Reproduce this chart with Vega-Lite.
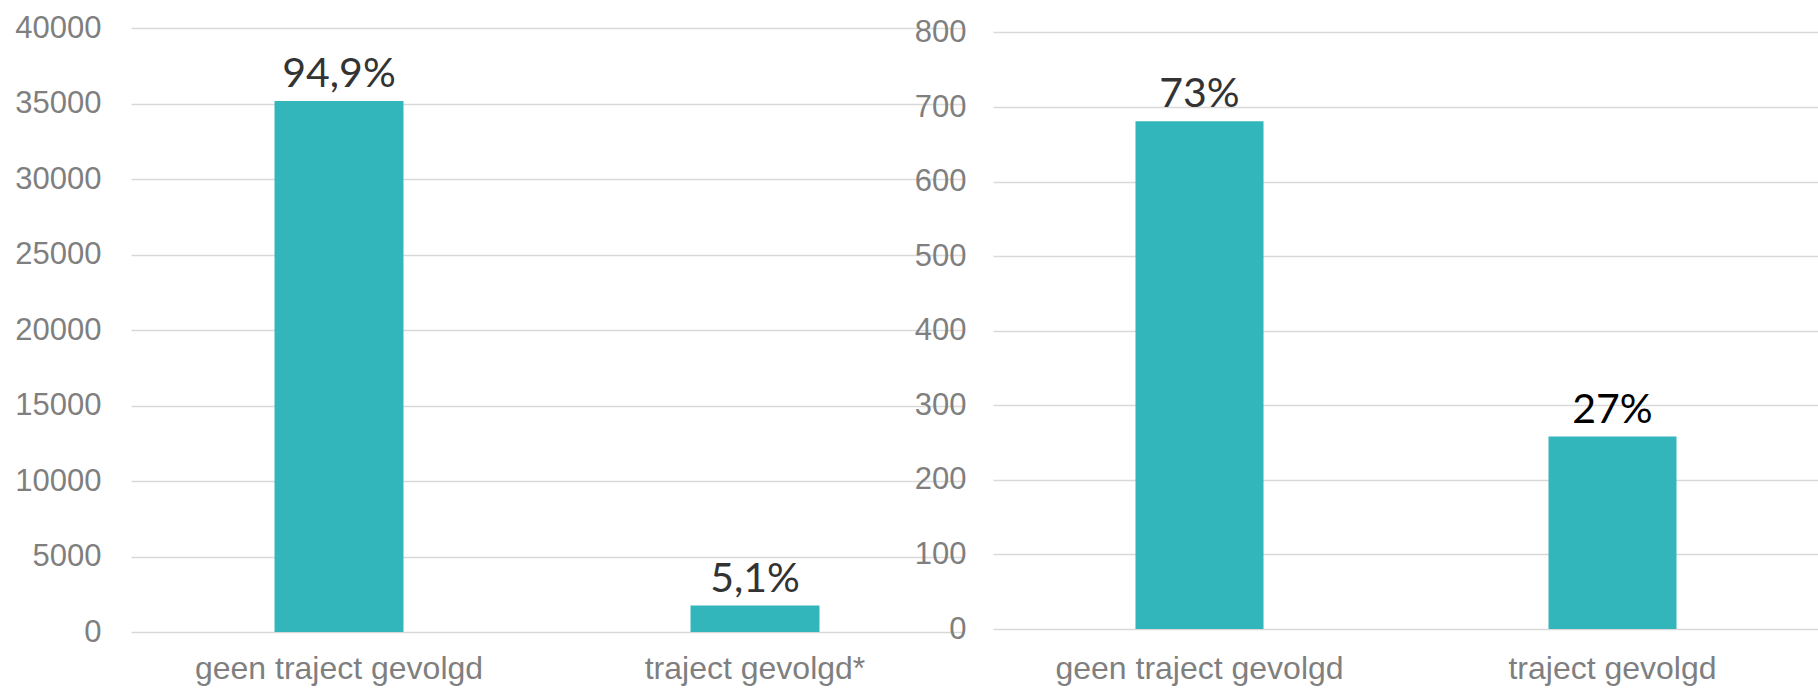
{
  "$schema": "https://vega.github.io/schema/vega-lite/v6.json",
  "background": "white",
  "padding": {"left": 14, "top": 12, "right": 0, "bottom": 8},
  "spacing": -49,
  "config": {
    "view": {"stroke": null},
    "axis": {
      "labelFont": "Liberation Sans",
      "labelColor": "#7F7F7F",
      "labelLimit": 600,
      "ticks": false,
      "domain": false,
      "title": null
    },
    "axisY": {"labelFontSize": 31, "grid": true, "gridColor": "#D9D9D9", "gridWidth": 1.5},
    "axisX": {"labelFontSize": 32, "labelAngle": 0, "grid": false}
  },
  "hconcat": [
    {
      "width": 832,
      "height": 604,
      "data": {
        "values": [
          {"cat": "geen traject gevolgd", "n": 35160, "label": "94,9%"},
          {"cat": "traject gevolgd*", "n": 1750, "label": "5,1%"}
        ]
      },
      "encoding": {
        "x": {
          "field": "cat",
          "type": "nominal",
          "sort": null,
          "scale": {"paddingInner": 0.69, "paddingOuter": 0.345},
          "axis": {"labelPadding": 21}
        },
        "y": {
          "field": "n",
          "type": "quantitative",
          "scale": {"domain": [0, 40000], "nice": false},
          "axis": {"values": [0, 5000, 10000, 15000, 20000, 25000, 30000, 35000, 40000], "labelPadding": 30, "format": "d"}
        }
      },
      "layer": [
        {"mark": {"type": "bar", "color": "#32B6BB"}},
        {
          "mark": {"type": "text", "baseline": "alphabetic", "dy": -14, "font": "Lato", "fontSize": 41, "color": "#333333"},
          "encoding": {"text": {"field": "label"}}
        }
      ]
    },
    {
      "width": 826,
      "height": 601,
      "data": {
        "values": [
          {"cat": "geen traject gevolgd", "n": 681, "label": "73%"},
          {"cat": "traject gevolgd", "n": 258, "label": "27%"}
        ]
      },
      "encoding": {
        "x": {
          "field": "cat",
          "type": "nominal",
          "sort": null,
          "scale": {"paddingInner": 0.69, "paddingOuter": 0.345},
          "axis": {"labelPadding": 24}
        },
        "y": {
          "field": "n",
          "type": "quantitative",
          "scale": {"domain": [0, 806], "nice": false},
          "axis": {"values": [0, 100, 200, 300, 400, 500, 600, 700, 800], "labelPadding": 27, "format": "d"}
        }
      },
      "layer": [
        {"mark": {"type": "bar", "color": "#32B6BB"}},
        {
          "mark": {"type": "text", "baseline": "alphabetic", "dy": -14, "font": "Lato", "fontSize": 41},
          "encoding": {
            "text": {"field": "label"},
            "color": {"condition": {"test": "datum.cat === 'traject gevolgd'", "value": "#000000"}, "value": "#333333"}
          }
        }
      ]
    }
  ]
}
